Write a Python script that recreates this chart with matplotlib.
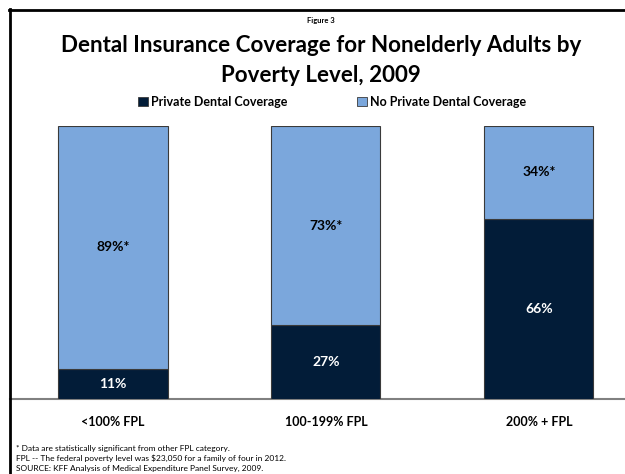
import matplotlib
matplotlib.use("Agg")
import matplotlib.pyplot as plt
from matplotlib.patches import Patch
from matplotlib.lines import Line2D

categories = ["<100% FPL", "100-199% FPL", "200% + FPL"]
private = [11, 27, 66]
no_private = [89, 73, 34]
private_labels = ["11%", "27%", "66%"]
no_private_labels = ["89%*", "73%*", "34%*"]
series_names = ["Private Dental Coverage", "No Private Dental Coverage"]

DARK = "#021C38"
LIGHT = "#7BA7DC"
FONT = ["Lato", "DejaVu Sans"]
plt.rcParams['font.family'] = FONT

W, H = 625, 474
fig = plt.figure(figsize=(W/100, H/100), dpi=100)
fig.patch.set_facecolor("white")

# axes placement
left_px, right_px = 10, 625
bottom_px, top_px = 399, 126
ax = fig.add_axes([left_px/W, 1-bottom_px/H, (right_px-left_px)/W, (bottom_px-top_px)/H])
x = list(range(len(categories)))
bw = 0.512
ax.bar(x, private, width=bw, color=DARK, edgecolor="#3a3a3a", linewidth=0.8, zorder=3)
ax.bar(x, no_private, width=bw, bottom=private, color=LIGHT, edgecolor="#3a3a3a", linewidth=0.8, zorder=3)

for i in x:
    ax.text(i, private[i]/2, private_labels[i], ha="center", va="center",
            color="white", fontsize=10, fontweight="bold")
    ax.text(i, private[i] + no_private[i]/2, no_private_labels[i], ha="center", va="center",
            color="black", fontsize=10, fontweight="bold")

ax.set_xlim(-0.4836, 2.404)
ax.set_ylim(0, 100)
for s in ["top", "left", "right"]:
    ax.spines[s].set_visible(False)
ax.spines["bottom"].set_color("#808080")
ax.spines["bottom"].set_linewidth(1.5)
ax.set_yticks([])
ax.set_xticks(x)
ax.set_xticklabels(categories, fontsize=9, fontweight="bold")
ax.tick_params(axis="x", length=0, pad=12)
ax.set_facecolor("none")

# frame lines
fig.add_artist(Line2D([10/W, 10/W], [0, 1-9/H], color="black", linewidth=2, transform=fig.transFigure))
fig.add_artist(Line2D([9/W, 1], [1-10/H, 1-10/H], color="black", linewidth=2, transform=fig.transFigure))

# titles
cx = 321/W
fig.text(cx, 1-20/H, "Figure 3", ha="center", va="center", fontsize=5.5, fontweight="bold")
fig.text(cx, 1-46/H, "Dental Insurance Coverage for Nonelderly Adults by", ha="center", va="center",
         fontsize=16.1, fontweight="bold")
fig.text(cx, 1-75/H, "Poverty Level, 2009", ha="center", va="center",
         fontsize=16.1, fontweight="bold")

# legend
handles = [Patch(facecolor=DARK, edgecolor="#3a3a3a", linewidth=0.6),
           Patch(facecolor=LIGHT, edgecolor="#3a3a3a", linewidth=0.6)]
leg = fig.legend(handles, series_names, loc="center", bbox_to_anchor=(332/W, 1-102/H),
                 ncol=2, frameon=False, prop={"size": 9, "weight": "bold", "family": FONT},
                 handlelength=0.8, handleheight=0.8, handletextpad=0.3, columnspacing=5.5)

# footnotes
notes = ["* Data are statistically significant from other FPL category.",
         "FPL -- The federal poverty level was $23,050 for a family of four in 2012.",
         "SOURCE: KFF Analysis of Medical Expenditure Panel Survey, 2009."]
for j, n in enumerate(notes):
    fig.text(16/W, 1-(449+9.5*j)/H, n, ha="left", va="center", fontsize=6.0)

fig.savefig("out.png", dpi=100)
